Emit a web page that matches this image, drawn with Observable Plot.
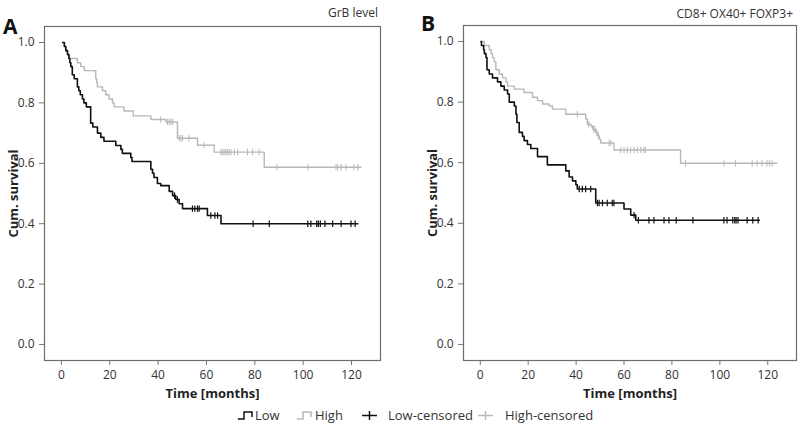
<!DOCTYPE html>
<html>
<head>
<meta charset="utf-8">
<script src="https://cdn.jsdelivr.net/npm/d3@7"></script>
<script src="https://cdn.jsdelivr.net/npm/@observablehq/plot@0.6"></script>
<style>
  html, body { margin: 0; padding: 0; background: #fff; }
  #wrap { position: relative; width: 798px; height: 431px; font-family: "Open Sans", sans-serif; color: #222; }
  .panel { position: absolute; top: 0; }
  .letter { position: absolute; font: bold 21px "Open Sans", sans-serif; color: #111; }
  .ptitle { position: absolute; font-size: 12px; color: #333; white-space: nowrap; }
  svg g[aria-label="x-axis label"] text, svg g[aria-label="y-axis label"] text { font-weight: bold; font-size: 13px; fill: #222; }
  svg g[aria-label="x-axis tick"] path, svg g[aria-label="y-axis tick"] path { stroke: #777; }
  svg g[aria-label="x-axis tick label"], svg g[aria-label="y-axis tick label"] { fill: #333; }
  #legend { position: absolute; top: 406px; left: 0; width: 798px; height: 20px; font-size: 13px; color: #333; white-space: nowrap; }
  #legend .icon { position: absolute; top: 1px; }
  #legend .lab { position: absolute; top: 0; line-height: 18px; }
</style>
</head>
<body>
<div id="wrap">
  <div class="letter" style="left:3px;top:12px;">A</div>
  <div class="letter" style="left:421px;top:9px;">B</div>
  <div class="ptitle" style="right:420px;top:4px;">GrB level</div>
  <div class="ptitle" style="right:5px;top:5px;">CD8+ OX40+ FOXP3+</div>
  <div class="panel" id="pA" style="left:0px;"></div>
  <div class="panel" id="pB" style="left:419px;"></div>
  <div id="legend"></div>
</div>
<script>
// ---------- Panel A (GrB level) ----------
const lowA_time = [0.5, 1.2, 1.8, 2.5, 3.1, 3.5, 3.9, 4.5, 5.3, 6.6, 7.2, 7.8, 8.7, 9.3, 10.3, 12.1, 13.0, 14.9, 16.3, 17.6, 22.5, 24.6, 25.2, 28.7, 29.2, 37.0, 37.7, 38.3, 39.7, 41.1, 44.6, 46.0, 47.3, 48.7, 50.1, 60.4, 66.0, 122.6];
const lowA_surv = [1.0, 0.987, 0.973, 0.96, 0.947, 0.933, 0.92, 0.893, 0.88, 0.853, 0.84, 0.827, 0.813, 0.80, 0.787, 0.733, 0.72, 0.70, 0.686, 0.673, 0.659, 0.646, 0.633, 0.619, 0.606, 0.58, 0.567, 0.553, 0.533, 0.526, 0.507, 0.493, 0.48, 0.466, 0.45, 0.427, 0.40, 0.40];
const lowA_cens = [46.8, 48.0, 54.2, 55.2, 56.3, 57.0, 61.8, 63.5, 64.6, 79.3, 86.0, 101.9, 103.2, 105.6, 106.3, 107.1, 109.0, 112.2, 115.7, 119.8, 121.5];

const highA_time = [0.5, 1.3, 2.0, 2.6, 3.1, 6.6, 8.0, 9.5, 14.2, 14.6, 14.9, 17.0, 18.3, 19.7, 21.1, 21.8, 25.9, 29.7, 37.0, 43.2, 48.0, 56.3, 63.2, 83.9, 123.9];
const highA_surv = [1.0, 0.987, 0.973, 0.96, 0.947, 0.933, 0.92, 0.907, 0.88, 0.867, 0.853, 0.84, 0.827, 0.813, 0.80, 0.787, 0.773, 0.757, 0.745, 0.737, 0.683, 0.66, 0.637, 0.587, 0.587];
const highA_cens = [41.1, 43.9, 44.6, 45.3, 46.0, 48.7, 49.4, 50.1, 52.8, 59.0, 66.0, 66.7, 67.3, 68.0, 68.7, 69.4, 70.1, 71.5, 72.9, 77.0, 79.1, 81.8, 89.1, 102.1, 113.6, 114.3, 115.7, 117.7, 120.9, 122.6];

// ---------- Panel B (CD8+ OX40+ FOXP3+) ----------
const lowB_time = [0.3, 0.5, 1.4, 1.7, 2.4, 2.8, 3.75, 5.1, 7.2, 8.6, 10.0, 11.4, 12.1, 14.2, 14.9, 15.3, 16.25, 17.6, 18.3, 19.7, 21.1, 23.9, 28.0, 35.7, 37.1, 38.5, 39.9, 40.5, 48.2, 60.0, 62.8, 64.9, 116.5];
const lowB_surv = [1.0, 0.987, 0.973, 0.96, 0.947, 0.907, 0.893, 0.88, 0.867, 0.853, 0.84, 0.827, 0.80, 0.787, 0.76, 0.733, 0.70, 0.687, 0.673, 0.66, 0.647, 0.62, 0.593, 0.573, 0.553, 0.54, 0.527, 0.513, 0.467, 0.447, 0.427, 0.41, 0.41];
const lowB_cens = [41.3, 42.6, 44.0, 46.1, 48.9, 49.6, 51.0, 53.0, 55.1, 55.8, 64.2, 66.0, 70.4, 72.5, 76.7, 78.75, 81.8, 88.75, 101.7, 103.0, 105.4, 106.25, 106.8, 107.6, 111.4, 113.75, 116.0];

const highB_time = [0.5, 1.7, 3.75, 4.5, 5.1, 5.8, 6.5, 7.9, 9.3, 10.7, 11.4, 14.2, 18.3, 21.8, 23.9, 26.0, 28.75, 30.1, 35.7, 44.0, 44.7, 46.1, 46.8, 48.2, 49.0, 49.6, 50.3, 55.8, 83.6, 123.9];
const highB_surv = [1.0, 0.987, 0.973, 0.96, 0.947, 0.933, 0.907, 0.893, 0.88, 0.867, 0.853, 0.843, 0.832, 0.816, 0.805, 0.794, 0.788, 0.777, 0.76, 0.744, 0.727, 0.722, 0.711, 0.70, 0.689, 0.678, 0.665, 0.642, 0.598, 0.598];
const highB_cens = [40.5, 45.3, 47.3, 47.8, 48.6, 49.3, 53.75, 54.5, 58.6, 60.0, 61.4, 62.8, 64.2, 65.6, 67.0, 68.3, 69.0, 85.7, 101.7, 106.5, 113.5, 115.5, 117.6, 119.7, 120.7, 121.8];

// ---------- axes ----------
const xTicks = [0, 20, 40, 60, 80, 100, 120];
const yTicks = [0.0, 0.2, 0.4, 0.6, 0.8, 1.0];
const xLabel = "Time [months]";
const yLabel = "Cum. survival";

const colLow = "#111111";
const colHigh = "#b8b8b8";

function stepData(times, surv) {
  return times.map((t, i) => ({t, s: surv[i]}));
}
function censData(cens, times, surv) {
  return cens.map(c => {
    let s = surv[0];
    for (let i = 0; i < times.length; i++) if (times[i] <= c) s = surv[i];
    return {t: c, s};
  });
}
const vbar = { draw(ctx) { ctx.moveTo(0, -3.2); ctx.lineTo(0, 3.2); } };

function panel(low_t, low_s, low_c, high_t, high_s, high_c, width, mTop, mRight) {
  return Plot.plot({
    width, height: 400,
    marginLeft: 44, marginRight: mRight, marginTop: mTop, marginBottom: 40,
    style: {fontFamily: "Open Sans, sans-serif", fontSize: "12px", background: "transparent"},
    x: {domain: [-7, 132]},
    y: {domain: [-0.053, 1.053]},
    marks: [
      Plot.axisX({ticks: xTicks, tickSize: 5, tickPadding: 5, label: xLabel, labelAnchor: "center", labelOffset: 37, labelArrow: "none"}),
      Plot.axisY({ticks: yTicks, tickSize: 5, tickPadding: 5, tickFormat: d3.format(".1f"), label: yLabel, labelAnchor: "center", labelOffset: 36, labelArrow: "none"}),
      Plot.frame({stroke: "#6e6e6e", strokeWidth: 1.2}),
      Plot.line(stepData(high_t, high_s), {x: "t", y: "s", curve: "step-after", stroke: colHigh, strokeWidth: 1.4}),
      Plot.dot(censData(high_c, high_t, high_s), {x: "t", y: "s", symbol: vbar, stroke: colHigh, strokeWidth: 1, fill: "none", r: 3}),
      Plot.line(stepData(low_t, low_s), {x: "t", y: "s", curve: "step-after", stroke: colLow, strokeWidth: 1.6}),
      Plot.dot(censData(low_c, low_t, low_s), {x: "t", y: "s", symbol: vbar, stroke: colLow, strokeWidth: 1.2, fill: "none", r: 3})
    ]
  });
}

document.getElementById("pA").appendChild(panel(lowA_time, lowA_surv, lowA_cens, highA_time, highA_surv, highA_cens, 399, 26, 19));
document.getElementById("pB").appendChild(panel(lowB_time, lowB_surv, lowB_cens, highB_time, highB_surv, highB_cens, 379, 25, 2));

// ---------- legend ----------
const legendNames = ["Low", "High", "Low-censored", "High-censored"];
const legendColors = [colLow, colHigh, colLow, colHigh];
const legendKinds = ["step", "step", "cross", "cross"];
const legendIconX = [237, 296, 361, 477];
const legendTextX = [255, 315, 388, 505];
const leg = document.getElementById("legend");
legendNames.forEach((name, i) => {
  const path = legendKinds[i] === "step"
    ? "M1,12 L7,12 L7,5 L15,5 L15,10"
    : "M1,8.5 L16,8.5 M8.5,4 L8.5,13";
  const ic = document.createElement("div");
  ic.className = "icon";
  ic.style.left = legendIconX[i] + "px";
  ic.innerHTML = `<svg width="17" height="16"><path d="${path}" fill="none" stroke="${legendColors[i]}" stroke-width="1.5"/></svg>`;
  leg.appendChild(ic);
  const lb = document.createElement("span");
  lb.className = "lab";
  lb.style.left = legendTextX[i] + "px";
  lb.textContent = name;
  leg.appendChild(lb);
});
</script>
</body>
</html>
